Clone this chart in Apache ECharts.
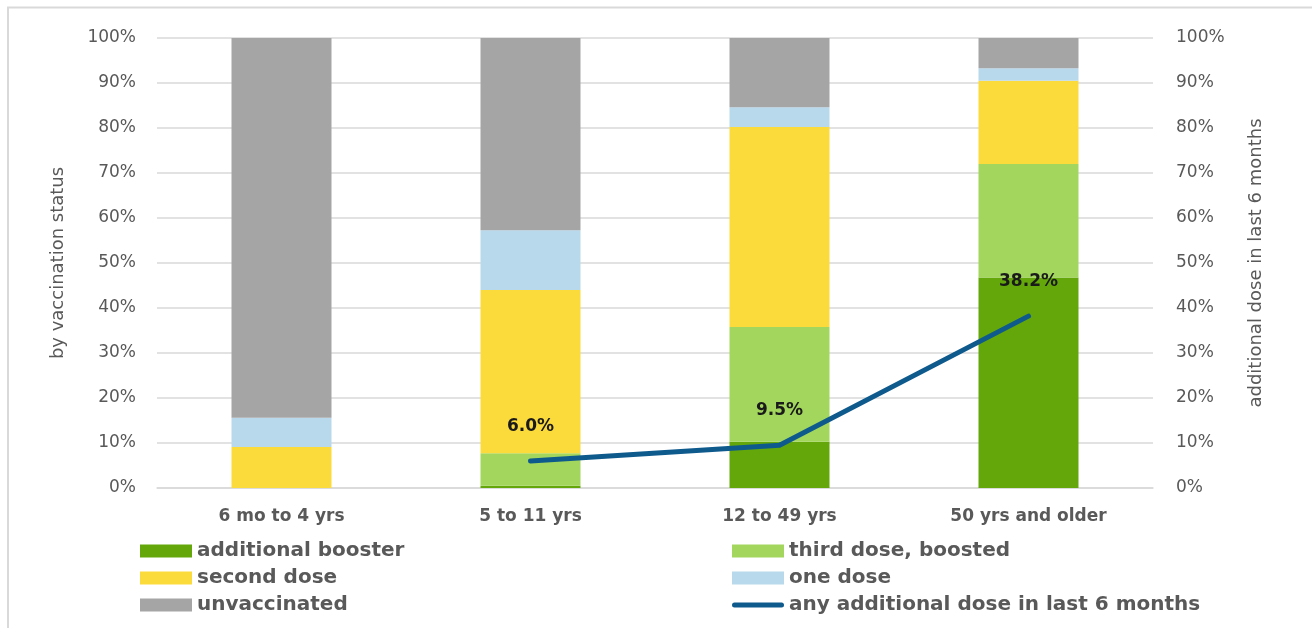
<!DOCTYPE html>
<html>
<head>
<meta charset="utf-8">
<script src="https://cdn.jsdelivr.net/npm/echarts@6/dist/echarts.min.js"></script>
<style>
  html, body { margin: 0; padding: 0; background: #fff; }
  #main { width: 1312px; height: 628px; }
</style>
</head>
<body>
<div id="main"></div>
<script>
// age groups on the x axis
var ageGroups = ["6 mo to 4 yrs", "5 to 11 yrs", "12 to 49 yrs", "50 yrs and older"];

// share of each age group by vaccination status (%), stacked bottom to top
var additionalBooster = [0, 0.5, 10.3, 46.8];
var thirdDose = [0, 7.2, 25.5, 25.2];
var secondDose = [9.1, 36.3, 44.4, 18.5];
var oneDose = [6.5, 13.3, 4.4, 2.8];
var unvaccinated = [84.4, 42.7, 15.4, 6.7];

// any additional dose in last 6 months (%), right axis
var recentDose = [null, 6.0, 9.5, 38.2];

var FONT = "DejaVu Sans";
var GREY = "#595959";
var LINE_BLUE = "#0F5A8D";

var myChart = echarts.init(document.getElementById("main"));

function barSeries(name, data, color) {
  return {
    name: name,
    type: "bar",
    stack: "status",
    barWidth: 100,
    data: data,
    itemStyle: { color: color },
    emphasis: { disabled: true },
  };
}

var legendText = { fontFamily: FONT, fontSize: 20, fontWeight: "bold", color: GREY, lineHeight: 20 };

// thick line with round ends for the line legend entry
var lineIcon = "path://M2.5,0 L49.5,0 A2.5,2.5,0,0,1,49.5,5 L2.5,5 A2.5,2.5,0,0,1,2.5,0 Z";

var option = {
  animation: false,
  backgroundColor: "#fff",
  grid: { left: 157, right: 159, top: 38, bottom: 140 },
  legend: [
    {
      orient: "vertical",
      left: 135,
      top: 536,
      icon: "rect",
      itemWidth: 52,
      itemHeight: 13,
      itemGap: 7,
      selectedMode: false,
      textStyle: legendText,
      data: ["additional booster", "second dose", "unvaccinated"],
    },
    {
      orient: "vertical",
      left: 727,
      top: 536,
      icon: "rect",
      itemWidth: 52,
      itemHeight: 13,
      itemGap: 7,
      selectedMode: false,
      textStyle: legendText,
      data: [
        "third dose, boosted",
        "one dose",
        { name: "any additional dose in last 6 months", icon: lineIcon },
      ],
    },
  ],
  xAxis: {
    type: "category",
    data: ageGroups,
    axisTick: { show: false },
    axisLine: { lineStyle: { color: "#D9D9D9", width: 1.5 } },
    axisLabel: { margin: 20, fontFamily: FONT, fontSize: 17, fontWeight: "bold", color: GREY },
  },
  yAxis: [
    {
      type: "value",
      min: 0,
      max: 100,
      interval: 10,
      name: "by vaccination status",
      nameLocation: "middle",
      nameRotate: 90,
      nameGap: 90,
      nameTextStyle: { fontFamily: FONT, fontSize: 18, color: GREY },
      axisLabel: { formatter: "{value}%", margin: 21, fontFamily: FONT, fontSize: 17, color: GREY },
      splitLine: { lineStyle: { color: "#D9D9D9", width: 1.5 } },
    },
    {
      type: "value",
      min: 0,
      max: 100,
      interval: 10,
      name: "additional dose in last 6 months",
      nameLocation: "middle",
      nameRotate: 90,
      nameGap: 94,
      nameTextStyle: { fontFamily: FONT, fontSize: 18, color: GREY },
      axisLabel: { formatter: "{value}%", margin: 23, fontFamily: FONT, fontSize: 17, color: GREY },
      splitLine: { show: false },
    },
  ],
  series: [
    barSeries("additional booster", additionalBooster, "#63A70B"),
    barSeries("third dose, boosted", thirdDose, "#A3D65D"),
    barSeries("second dose", secondDose, "#FBDB3C"),
    barSeries("one dose", oneDose, "#B8D9EB"),
    barSeries("unvaccinated", unvaccinated, "#A5A5A5"),
    {
      name: "any additional dose in last 6 months",
      type: "line",
      yAxisIndex: 1,
      data: recentDose,
      symbol: "circle",
      symbolSize: 0,
      showSymbol: true,
      lineStyle: { color: LINE_BLUE, width: 5, cap: "round", join: "round" },
      itemStyle: { color: LINE_BLUE },
      label: {
        show: true,
        position: "top",
        distance: 26,
        fontFamily: FONT,
        fontSize: 17,
        fontWeight: "bold",
        color: "#1A1A1A",
        formatter: function (p) {
          return p.value == null ? "" : p.value.toFixed(1) + "%";
        },
      },
      emphasis: { disabled: true },
    },
  ],
  graphic: [
    {
      type: "polyline",
      shape: { points: [[8, 640], [8, 7.5], [1320, 7.5]] },
      style: { stroke: "#D9D9D9", lineWidth: 2, fill: null },
      silent: true,
    },
  ],
};

myChart.setOption(option);
</script>
</body>
</html>
